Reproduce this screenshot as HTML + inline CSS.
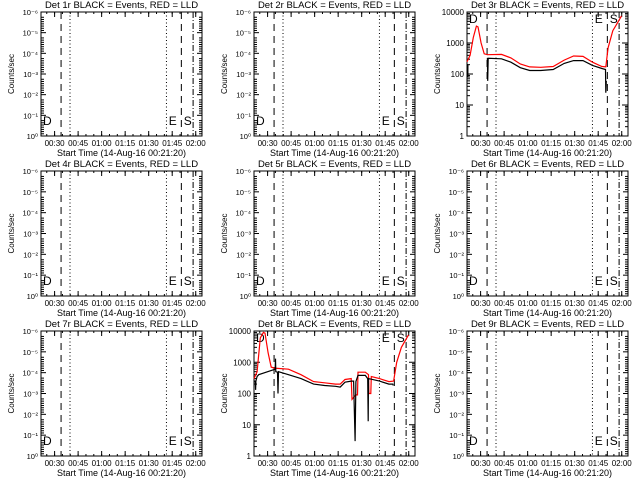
<!DOCTYPE html>
<html><head><meta charset="utf-8"><style>
html,body{margin:0;padding:0;background:#fff;width:640px;height:480px;overflow:hidden}
svg text{font-family:"Liberation Sans",sans-serif;fill:#000}
</style></head><body>
<svg id="s" width="640" height="480" xmlns="http://www.w3.org/2000/svg"></svg>
<script>
var S=document.getElementById('s'),h='';
var tops=[12,171,331],bots=[136,296,456],lefts=[41,254,467],W=161,TM=102.67;
function X(c,t){return lefts[c]+t*W/TM}
function Y(r,v){var b=bots[r],tp=tops[r];return b-(Math.log10(v))/4*(b-tp)}
var sup=['10⁻⁶','10⁻⁵','10⁻⁴','10⁻³','10⁻²','10⁻¹','10⁰'];
function panel(r,c,n,data){
 var L=lefts[c],T=tops[r],B=bots[r],R=L+W,Hh=B-T;
 h+='<text x="'+(L+W/2)+'" y="'+(T-4)+'" font-size="9.5" text-anchor="middle">Det '+n+'r BLACK = Events, RED = LLD</text>';
 h+='<rect x="'+L+'" y="'+T+'" width="'+W+'" height="'+Hh+'" fill="none" stroke="#000" stroke-width="1"/>';
 // x ticks
 var labs=['00:30','00:45','01:00','01:15','01:30','01:45','02:00'];
 for(var i=0;i<7;i++){var t=8.67+15*i,x=X(c,t);
  h+='<line x1="'+x+'" y1="'+B+'" x2="'+x+'" y2="'+(B-5)+'" stroke="#000"/><line x1="'+x+'" y1="'+T+'" x2="'+x+'" y2="'+(T+5)+'" stroke="#000"/>';
  h+='<text x="'+x+'" y="'+(B+10)+'" font-size="8" text-anchor="middle">'+labs[i]+'</text>';}
 for(var t=3.67;t<TM;t+=5){var x=X(c,t);h+='<line x1="'+x+'" y1="'+B+'" x2="'+x+'" y2="'+(B-2)+'" stroke="#000"/><line x1="'+x+'" y1="'+T+'" x2="'+x+'" y2="'+(T+2)+'" stroke="#000"/>';}
 h+='<text x="'+(L+W/2)+'" y="'+(B+20)+'" font-size="9" text-anchor="middle">Start Time (14-Aug-16 00:21:20)</text>';
 h+='<text transform="translate('+(L-27)+','+(T+Hh/2)+') rotate(-90)" font-size="8" text-anchor="middle">Counts/sec</text>';
 if(data){
  var yl=['10000','1000','100','10','1'];
  for(var d=0;d<=4;d++){var y=T+d*Hh/4;h+='<text x="'+(L-3)+'" y="'+(y+3)+'" font-size="8" text-anchor="end">'+yl[d]+'</text>';
   h+='<line x1="'+L+'" y1="'+y+'" x2="'+(L+6)+'" y2="'+y+'" stroke="#000"/><line x1="'+R+'" y1="'+y+'" x2="'+(R-6)+'" y2="'+y+'" stroke="#000"/>';
   if(d<4)for(var k=2;k<10;k++){var yy=y+Hh/4-Math.log10(k)*Hh/4;h+='<line x1="'+L+'" y1="'+yy+'" x2="'+(L+3)+'" y2="'+yy+'" stroke="#000"/><line x1="'+R+'" y1="'+yy+'" x2="'+(R-3)+'" y2="'+yy+'" stroke="#000"/>';}}
 } else {
  for(var d=0;d<=6;d++){var y=T+d*Hh/6;h+='<text x="'+(L-3)+'" y="'+(y+3)+'" font-size="7.5" text-anchor="end">'+sup[d]+'</text>';
   h+='<line x1="'+L+'" y1="'+y+'" x2="'+(L+5)+'" y2="'+y+'" stroke="#000"/><line x1="'+R+'" y1="'+y+'" x2="'+(R-5)+'" y2="'+y+'" stroke="#000"/>';
   if(d<6)for(var k=1;k<8;k++){var yy=y+Hh/6-k*2.2;h+='<line x1="'+L+'" y1="'+yy+'" x2="'+(L+3)+'" y2="'+yy+'" stroke="#000"/><line x1="'+R+'" y1="'+yy+'" x2="'+(R-3)+'" y2="'+yy+'" stroke="#000"/>';}}
 }
 var vl=[[12.8,'7,5'],[18.5,'1,2.5'],[80,'1,2.5'],[89.5,'7,5'],[97,'6,2,1,2']];
 vl.forEach(function(v){var x=X(c,v[0]);h+='<line x1="'+x+'" y1="'+T+'" x2="'+x+'" y2="'+B+'" stroke="#000" stroke-dasharray="'+v[1]+'"/>';});
 var ly=data?T+11:B-11;
 h+='<text x="'+(L+2)+'" y="'+ly+'" font-size="12" font-family="Liberation Mono">D</text>';
 h+='<text x="'+(X(c,81.5))+'" y="'+ly+'" font-size="12" font-family="Liberation Mono">E</text>';
 h+='<text x="'+(X(c,91))+'" y="'+ly+'" font-size="12" font-family="Liberation Mono">S</text>';
 if(data){data.forEach(function(s){var p=s[1].map(function(q){return X(c,q[0]).toFixed(1)+','+Y(r,q[1]).toFixed(1)}).join(' ');
  h+='<polyline points="'+p+'" fill="none" stroke="'+s[0]+'" stroke-width="1.2"/>';});}
}
var r3=[[0,250],[2,400],[4,1500],[6,3500],[7,3300],[9,1000],[11,450],[13,420],[22,430],[28,330],[34,210],[40,170],[47,165],[55,175],[62,280],[68,380],[74,370],[80,240],[86,175],[88.5,170],[90,700],[93,2500],[96,4500],[98.5,7500]];
var b3a=[[0,200],[0.4,200],[0.5,80],[0.6,200]];
var b3=[[13,330],[13.2,60],[13.5,320],[22,310],[28,240],[34,160],[40,130],[47,130],[55,140],[62,220],[68,270],[74,270],[80,190],[86,150],[88.3,140],[88.5,25],[88.8,60]];
panel(0,0,1,null);panel(0,1,2,null);panel(0,2,3,[['#f00',r3],['#000',b3a],['#000',b3]]);
panel(1,0,4,null);panel(1,1,5,null);panel(1,2,6,null);
var r8=[[0,300],[2,500],[4,6000],[6,9000],[7,8500],[9,2000],[11,700],[13,650],[22,600],[30,400],[38,240],[45,220],[52,200],[55,200],[58,280],[62,300],[62.5,65],[65,90],[66,90],[66.3,480],[71,480],[73,400],[73.3,100],[74.5,100],[74.8,350],[80,300],[86,240],[89,250],[91,1000],[94,3000],[98.5,7500]];
var b8=[[0,250],[0.8,250],[1,130],[1.2,250],[2,350],[3,400],[13.5,600],[13.7,1300],[13.9,500],[15,480],[15.3,100],[15.6,500],[22,400],[30,300],[38,200],[45,180],[52,170],[55,160],[58,230],[62,250],[63.5,250],[64.5,3],[65,240],[66.3,380],[71,380],[72.5,300],[72.8,13],[73,300],[80,250],[86,200],[88.5,200],[88.8,180]];
panel(2,0,7,null);panel(2,1,8,[['#f00',r8],['#000',b8]]);panel(2,2,9,null);
S.innerHTML=h;
</script>
</body></html>
